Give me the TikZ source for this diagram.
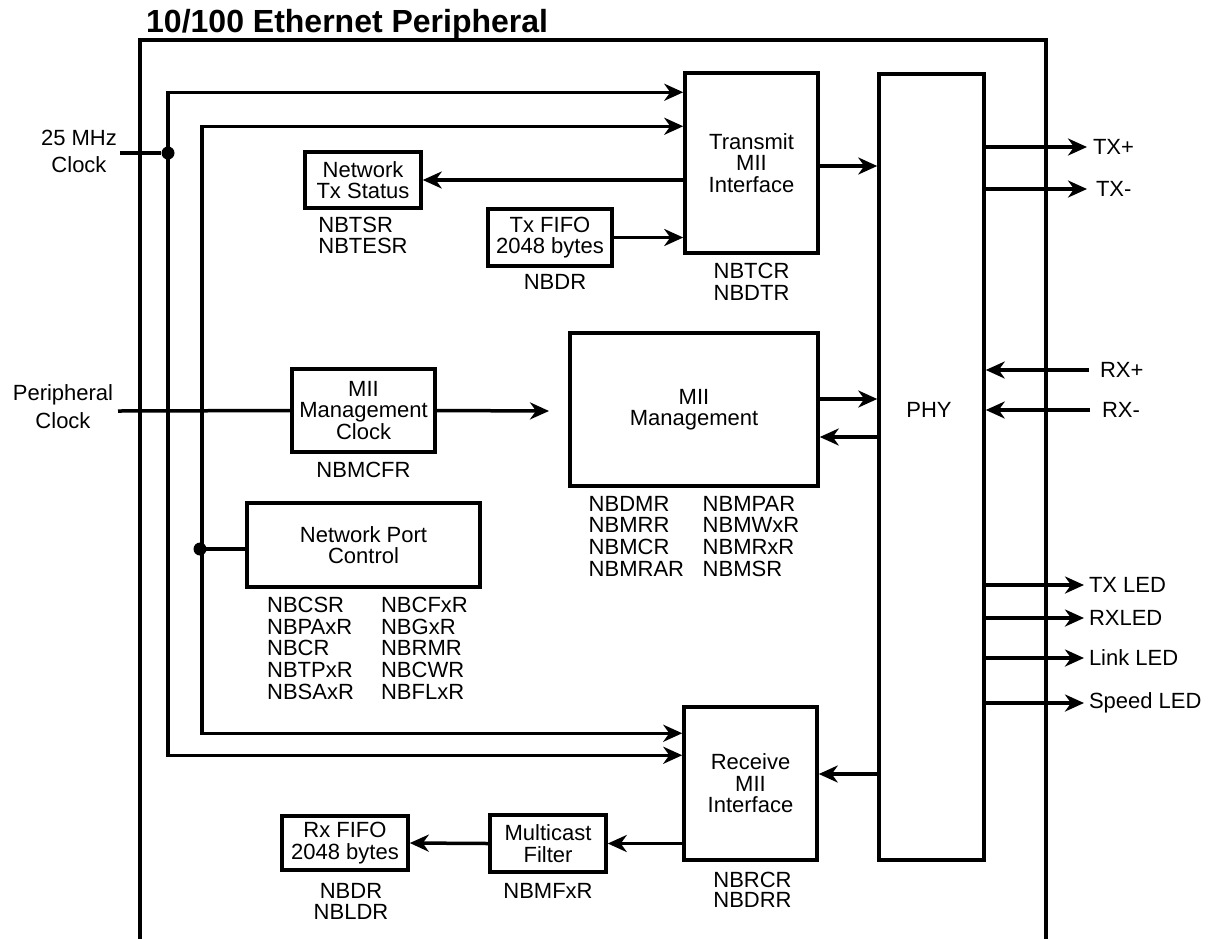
\documentclass[tikz,border=0pt]{standalone}
\usepackage{fontspec}
\setmainfont{Liberation Sans}
\usepackage{array}
\usetikzlibrary{arrows.meta,positioning}

\begin{document}
\begin{tikzpicture}[x=1pt, y=-1pt,
    box/.style={draw, line width=3.5pt, inner sep=0pt, align=center,
                font=\fontsize{22}{21.5}\selectfont},
    reg/.style={inner sep=0pt, outer sep=0pt, align=center,
                font=\fontsize{22}{21}\selectfont},
    pin/.style={inner sep=0pt, outer sep=0pt, align=center,
                font=\fontsize{22}{27.5}\selectfont},
    wire/.style={line width=3.5pt},
    arr/.style={wire, -{Stealth[length=19pt, width=17pt, inset=6pt]}},
    dot/.style={circle, fill, inner sep=0pt, minimum size=13pt}
  ]
  \useasboundingbox (0,0) rectangle (1209,938);

  % frame and title
  \draw[wire] (140,945) |- (1046,40) -- (1046,945);
  \node[anchor=base west, inner sep=0pt, font=\fontsize{32}{32}\selectfont\bfseries]
    (title) at (146,32.5) {10/100 Ethernet Peripheral};

  % blocks
  \node[box, minimum width=133pt, minimum height=180pt] (txmii)   at (751.5,163)   {Transmit\\MII\\Interface};
  \node[box, minimum width=105pt, minimum height=786pt] (phy)     at (931.5,467)   {};
  \node[reg] (phytext) at (929,410) {PHY};
  \node[box, minimum width=116pt, minimum height=56pt]  (txstat)  at (363,180)     {Network\\Tx Status};
  \node[box, minimum width=124pt, minimum height=57pt]  (txfifo)  at (550,237.5)   {Tx FIFO\\2048 bytes};
  \node[box, minimum width=143pt, minimum height=83pt]  (mgmtclk) at (363.5,410.5) {MII\\Management\\Clock};
  \node[box, minimum width=248pt, minimum height=153pt] (miimgmt) at (694,409.5)   {MII\\Management};
  \node[box, minimum width=233pt, minimum height=84pt]  (portctl) at (363.5,545)   {Network Port\\Control};
  \node[box, minimum width=133pt, minimum height=153pt] (rxmii)   at (750.5,783.5) {Receive\\MII\\Interface};
  \node[box, minimum width=116pt, minimum height=57pt]  (mcast)   at (548,843.5)   {Multicast\\Filter};
  \node[box, minimum width=126pt, minimum height=54pt]  (rxfifo)  at (345,843)     {Rx FIFO\\2048 bytes};

  % register names
  \node[reg, align=left, below=7.5pt of txstat] (txstatregs) {NBTSR\\NBTESR};
  \node[reg, below=7pt of txfifo, xshift=5pt] (txfiforegs) {NBDR};
  \node[reg, below=8.5pt of txmii] (txmiiregs) {NBTCR\\[1pt]NBDTR};
  \node[reg, below=8.5pt of mgmtclk] (mgmtclkregs) {NBMCFR};
  \node[reg, below=8.5pt of miimgmt] (miimgmtregs)
    {\begin{tabular}{@{}p{114pt}@{}l@{}}
     NBDMR & NBMPAR\\ NBMRR & NBMWxR\\ NBMCR & NBMRxR\\ NBMRAR & NBMSR
     \end{tabular}};
  \node[reg, below=8.5pt of portctl, xshift=4pt] (portregs)
    {\begin{tabular}{@{}p{114pt}@{}l@{}}
     NBCSR & NBCFxR\\ NBPAxR & NBGxR\\ NBCR & NBRMR\\ NBTPxR & NBCWR\\ NBSAxR & NBFLxR
     \end{tabular}};
  \node[reg, below=11.5pt of rxfifo, xshift=6pt] (rxfiforegs) {NBDR\\NBLDR};
  \node[reg, below=9.5pt of mcast] (mcastregs) {NBMFxR};
  \node[reg, below=10.5pt of rxmii, xshift=2pt] (rxmiiregs) {NBRCR\\[-1pt]NBDRR};

  % clock inputs
  \node[pin] (clklbl) at (79,151.5) {25 MHz\\Clock};
  \node[pin] (perlbl) at (63,406.5) {Peripheral\\Clock};
  \coordinate (clkin) at (120,153);
  \coordinate (perin) at (118,411);
  \node[dot] (clkdot) at (168,153) {};
  \node[dot] (portdot) at (200,549) {};
  \coordinate (mgmtend) at (549,411);

  \draw[wire] (clkin) -- (clkdot);
  \draw[arr] (clkdot.center) |- ([yshift=-21pt]txmii.north west);
  \draw[arr] (clkdot.center) |- ([yshift=-50pt]rxmii.north west);
  \draw[arr] ([xshift=2pt]portdot.center) |- ([yshift=-55pt]txmii.north west);
  \draw[arr] ([xshift=2pt]portdot.center) |- ([yshift=-28pt]rxmii.north west);
  \draw[wire] (portdot.center) -- (portctl.west |- portdot);
  \draw[wire] (perin) -- (mgmtclk.west);
  \draw[arr] (mgmtclk.east) -- (mgmtend);

  % data paths
  \coordinate (txout) at ([yshift=-3pt]txmii.east);
  \coordinate (mgmtout) at ([yshift=10.5pt]miimgmt.east);
  \coordinate (mgmtin) at ([yshift=-27.5pt]miimgmt.east);
  \coordinate (rxin) at ([yshift=9.5pt]rxmii.east);
  \draw[arr] (txmii.west |- txstat) -- (txstat.east);
  \draw[arr] (txfifo.east) -- (txmii.west |- txfifo);
  \draw[arr] (txout) -- (phy.west |- txout);
  \draw[arr] (mgmtout) -- (phy.west |- mgmtout);
  \draw[arr] (phy.west |- mgmtin) -- (mgmtin);
  \draw[arr] (phy.west |- rxin) -- (rxin);
  \draw[arr] (rxmii.west |- mcast) -- (mcast.east);
  \draw[arr] (mcast.west) -- (rxfifo.east);

  % PHY pins
  \coordinate (txp) at (1087,147);
  \coordinate (txm) at (1087,189);
  \coordinate (rxp) at (1089,370);
  \coordinate (rxm) at (1090,410);
  \coordinate (txled) at (1084,585);
  \coordinate (rxled) at (1084,618);
  \coordinate (lnkled) at (1084,658);
  \coordinate (spdled) at (1084,703);
  \draw[arr] (phy.east |- txp) -- (txp);
  \draw[arr] (phy.east |- txm) -- (txm);
  \draw[arr] (rxp) -- (phy.east |- rxp);
  \draw[arr] (rxm) -- (phy.east |- rxm);
  \draw[arr] (phy.east |- txled) -- (txled);
  \draw[arr] (phy.east |- rxled) -- (rxled);
  \draw[arr] (phy.east |- lnkled) -- (lnkled);
  \draw[arr] (phy.east |- spdled) -- (spdled);
  \node[reg, right=6pt of txp] (txplbl) {TX+};
  \node[reg, right=9pt of txm] (txmlbl) {TX-};
  \node[reg, right=11pt of rxp] (rxplbl) {RX+};
  \node[reg, right=12pt of rxm] (rxmlbl) {RX-};
  \node[reg, right=5pt of txled] (txledlbl) {TX LED};
  \node[reg, right=5pt of rxled] (rxledlbl) {RXLED};
  \node[reg, right=5pt of lnkled] (lnkledlbl) {Link LED};
  \node[reg, right=5pt of spdled] (spdledlbl) {Speed LED};
\end{tikzpicture}
\end{document}
